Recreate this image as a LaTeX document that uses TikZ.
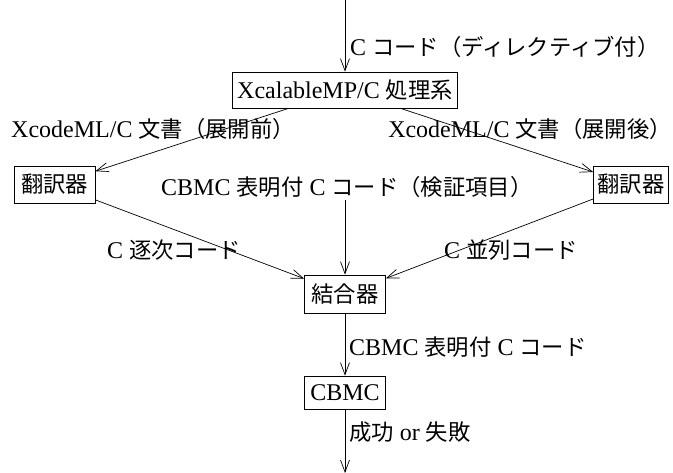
\documentclass[tikz,border=0pt]{standalone}
\usepackage{fontspec}
\setmainfont{Liberation Serif}
\newfontfamily\jpf[Scale=0.93]{Noto Sans CJK JP}
\newcommand{\J}[1]{{\jpf #1}}
\usetikzlibrary{arrows.meta}
\begin{document}
\begin{tikzpicture}[x=1pt,y=-1pt,
  every node/.style={font=\fontsize{24pt}{28pt}\selectfont},
  procbox/.style={draw,line width=0.7pt,inner xsep=6pt,inner ysep=6.5pt,minimum height=37pt},
  lbl/.style={inner sep=0pt},
  arr/.style={line width=0.7pt,-{Straight Barb[length=12pt,width=9pt]}}]
\useasboundingbox (0,0) rectangle (673,473);
\coordinate (in) at (345,0);
\coordinate (out) at (345,473);
\node[procbox,inner xsep=5pt,minimum height=36pt] (xmp) at (345,90) {XcalableMP/C \J{処理系}};
\node[procbox,inner xsep=7pt] (trL) at (54.5,184.5) {\J{翻訳器}};
\node[procbox,inner xsep=4pt] (trR) at (631,184.5) {\J{翻訳器}};
\node[procbox,inner xsep=7pt,minimum height=38pt] (comb) at (345,294) {\J{結合器}};
\node[procbox,minimum height=33pt] (cbmc) at (345,392.5) {CBMC};
\node[lbl,anchor=base west] (l1) at (350,56) {C \J{コード（ディレクティブ付）}};
\node[lbl,anchor=base west] (l2) at (11,138) {XcodeML/C \J{文書（展開前）}};
\node[lbl,anchor=base east] (l3) at (672,138) {XcodeML/C \J{文書（展開後）}};
\node[lbl,inner sep=2pt,anchor=base west] (chk) at (159,196) {CBMC \J{表明付} C \J{コード（検証項目）}};
\node[lbl,anchor=base west] (l4) at (107,259) {C \J{逐次コード}};
\node[lbl,anchor=base west] (l5) at (444,259) {C \J{並列コード}};
\node[lbl,anchor=base west] (l6) at (349,356) {CBMC \J{表明付} C \J{コード}};
\node[lbl,anchor=base west] (l7) at (349,440) {\J{成功} or \J{失敗}};
\draw[arr] (in) -- (xmp);
\draw[arr] (xmp) -- (trL);
\draw[arr] (xmp) -- (trR);
\draw[arr] (trL) -- (comb);
\draw[arr] (trR) -- (comb);
\draw[arr] (chk.south -| comb.north) -- (comb.north);
\draw[arr] (comb) -- (cbmc);
\draw[arr] (cbmc) -- (out);
\end{tikzpicture}
\end{document}
